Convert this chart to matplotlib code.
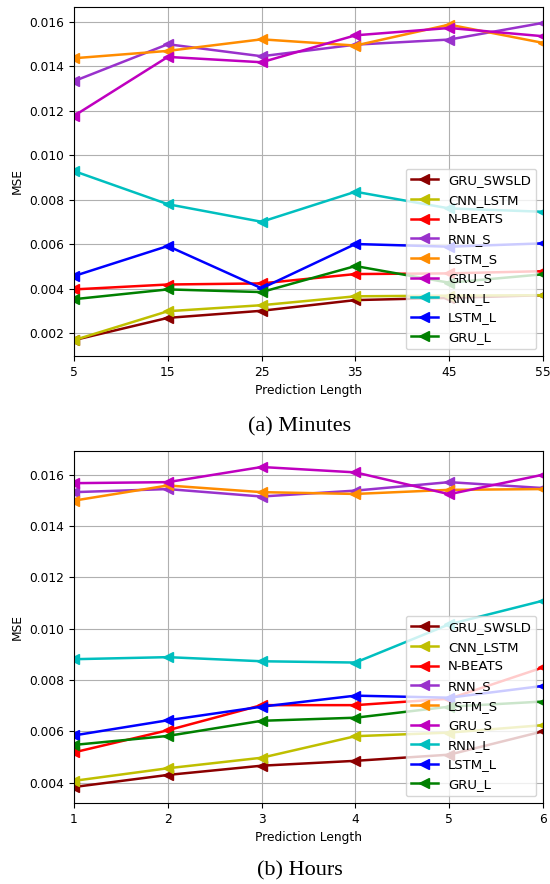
import matplotlib
matplotlib.use("Agg")
import matplotlib.pyplot as plt

names = ["GRU_SWSLD", "CNN_LSTM", "N-BEATS", "RNN_S", "LSTM_S", "GRU_S", "RNN_L", "LSTM_L", "GRU_L"]
colors = ["darkred", "y", "r", "darkorchid", "darkorange", "m", "c", "b", "g"]

x_min = [5, 15, 25, 35, 45, 55]
min_gru_swsld = [0.0017, 0.0027, 0.00302, 0.0035, 0.0036, 0.00372]
min_cnn_lstm = [0.0017, 0.0030, 0.00327, 0.00367, 0.0037, 0.00372]
min_nbeats = [0.00398, 0.0042, 0.00425, 0.00467, 0.0047, 0.0048]
min_rnn_s = [0.01334, 0.0150, 0.01446, 0.01498, 0.01521, 0.01596]
min_lstm_s = [0.01437, 0.0147, 0.01522, 0.01494, 0.01588, 0.01506]
min_gru_s = [0.01178, 0.01443, 0.01419, 0.0154, 0.01573, 0.01536]
min_rnn_l = [0.0093, 0.00781, 0.00702, 0.00837, 0.00762, 0.00747]
min_lstm_l = [0.00458, 0.00593, 0.00403, 0.00602, 0.0059, 0.00605]
min_gru_l = [0.00354, 0.00398, 0.00386, 0.00503, 0.00428, 0.00466]

x_hour = [1, 2, 3, 4, 5, 6]
hr_gru_swsld = [0.00383, 0.0043, 0.00466, 0.00485, 0.00509, 0.0060]
hr_cnn_lstm = [0.00407, 0.00456, 0.00497, 0.00581, 0.00595, 0.00624]
hr_nbeats = [0.00518, 0.00604, 0.00702, 0.00702, 0.00727, 0.00849]
hr_rnn_s = [0.01532, 0.01544, 0.01515, 0.01538, 0.01571, 0.01548]
hr_lstm_s = [0.01499, 0.01558, 0.01532, 0.01525, 0.01541, 0.01544]
hr_gru_s = [0.01567, 0.01571, 0.0163, 0.01609, 0.01524, 0.0160]
hr_rnn_l = [0.00881, 0.00889, 0.00873, 0.00868, 0.01017, 0.01109]
hr_lstm_l = [0.00584, 0.00643, 0.00696, 0.00739, 0.00731, 0.00777]
hr_gru_l = [0.00547, 0.00582, 0.00641, 0.00653, 0.00696, 0.00716]

minutes = [min_gru_swsld, min_cnn_lstm, min_nbeats, min_rnn_s, min_lstm_s,
           min_gru_s, min_rnn_l, min_lstm_l, min_gru_l]
hours = [hr_gru_swsld, hr_cnn_lstm, hr_nbeats, hr_rnn_s, hr_lstm_s,
         hr_gru_s, hr_rnn_l, hr_lstm_l, hr_gru_l]

W, H = 550, 884
fig = plt.figure(figsize=(W / 100, H / 100), dpi=100)

def px_axes(left, top, right, bottom):
    return fig.add_axes([left / W, 1 - bottom / H, (right - left) / W, (bottom - top) / H])

ax1 = px_axes(74, 7, 543, 356)
ax2 = px_axes(74, 451, 543, 803)

def draw(ax, x, series, caption_y, caption):
    for name, col, ys in zip(names, colors, series):
        ax.plot(x, ys, color=col, marker="<", markersize=6.5, linewidth=1.8, label=name)
    ax.set_xticks(x)
    ax.set_xlim(x[0], x[-1])
    ax.grid(True, color="#b0b0b0", linewidth=0.8)
    ax.tick_params(labelsize=8.8)
    ax.set_xlabel("Prediction Length", fontsize=8.8)
    ax.set_ylabel("MSE", fontsize=8.8)
    ax.legend(loc="lower right", fontsize=9.55, handlelength=2.0)
    fig.text(300 / W, 1 - caption_y / H, caption, ha="center", va="center",
             family="Liberation Serif", fontsize=16)

draw(ax1, x_min, minutes, 427, "(a) Minutes")
draw(ax2, x_hour, hours, 871, "(b) Hours")
ax1.set_yticks([0.002, 0.004, 0.006, 0.008, 0.010, 0.012, 0.014, 0.016])
ax2.set_yticks([0.004, 0.006, 0.008, 0.010, 0.012, 0.014, 0.016])

fig.savefig("out.png", dpi=100)
